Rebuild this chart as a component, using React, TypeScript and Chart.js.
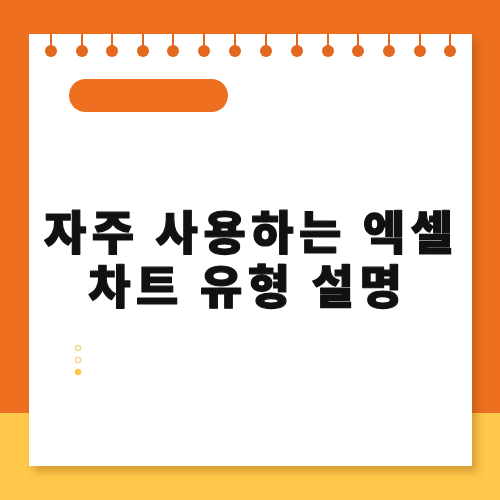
import React, { useEffect, useRef } from 'react';
import { Chart, Plugin, registerables } from 'chart.js';

Chart.register(...registerables);

// spiral binding holes along the top of the sheet
const holeX = [51, 82, 112, 143, 173, 204, 235, 266, 297, 328, 358, 389, 420, 450];
const holeY = [51, 51, 51, 51, 51, 51, 51, 51, 51, 51, 51, 51, 51, 51];

// the three little dots under the title
const bulletX = [78, 78, 78];
const bulletY = [348, 360, 372];
const bulletFilled = [false, false, true];

const titleLines = ['자주 사용하는 엑셀', '차트 유형 설명'];

const ORANGE = '#EE6F1F';
const YELLOW = '#FFC94B';

const sheetPlugin: Plugin<'scatter'> = {
  id: 'sheet',
  beforeDatasetsDraw(chart) {
    const { ctx } = chart;
    const x = chart.scales.x;
    const y = chart.scales.y;
    const px = (v: number) => x.getPixelForValue(v);
    const py = (v: number) => y.getPixelForValue(v);

    ctx.save();
    // background: orange top, yellow band at the bottom
    ctx.fillStyle = ORANGE;
    ctx.fillRect(px(0), py(0), px(500) - px(0), py(500) - py(0));
    ctx.fillStyle = YELLOW;
    ctx.fillRect(px(0), py(413), px(500) - px(0), py(500) - py(413));

    // white sheet with a soft shadow
    ctx.shadowColor = 'rgba(120, 60, 0, 0.3)';
    ctx.shadowBlur = 8;
    ctx.shadowOffsetX = 5;
    ctx.shadowOffsetY = 6;
    ctx.fillStyle = '#FFFFFF';
    ctx.fillRect(px(29), py(34), px(472) - px(29), py(466) - py(34));
    ctx.shadowColor = 'transparent';

    // orange pill label
    const pl = px(69);
    const pt = py(79);
    const pw = px(228) - pl;
    const ph = py(112) - pt;
    ctx.fillStyle = ORANGE;
    ctx.beginPath();
    ctx.roundRect(pl, pt, pw, ph, ph / 2);
    ctx.fill();

    // stems of the binding holes
    ctx.strokeStyle = '#E4671F';
    ctx.lineWidth = 2;
    holeX.forEach((hx, i) => {
      ctx.beginPath();
      ctx.moveTo(px(hx), py(34));
      ctx.lineTo(px(hx), py(holeY[i]));
      ctx.stroke();
    });

    // title, thickened a little with a round stroke
    const spacing = 5.5;
    ctx.fillStyle = '#111111';
    ctx.strokeStyle = '#111111';
    ctx.lineWidth = 1.2;
    ctx.lineJoin = 'round';
    ctx.textAlign = 'center';
    ctx.textBaseline = 'middle';
    ctx.font = '900 46px "Noto Sans CJK KR", sans-serif';
    (ctx as any).letterSpacing = `${spacing}px`;
    const centers = [248.5, 245];
    titleLines.forEach((line, i) => {
      const cx = px(centers[i]) + spacing / 2;
      const cy = py(232 + i * 54);
      ctx.strokeText(line, cx, cy);
      ctx.fillText(line, cx, cy);
    });
    ctx.restore();
  },
};

export default function App() {
  const canvasRef = useRef<HTMLCanvasElement>(null);
  const chartRef = useRef<Chart<'scatter'> | null>(null);

  useEffect(() => {
    if (!canvasRef.current) return;

    chartRef.current = new Chart(canvasRef.current, {
      type: 'scatter',
      data: {
        datasets: [
          {
            label: 'holes',
            data: holeX.map((hx, i) => ({ x: hx, y: holeY[i] })),
            pointRadius: 6,
            pointBackgroundColor: '#E4671F',
            pointBorderWidth: 0,
            clip: false,
          },
          {
            label: 'bullets',
            data: bulletX.map((bx, i) => ({ x: bx, y: bulletY[i] })),
            pointRadius: bulletFilled.map((f) => (f ? 3.2 : 2.6)),
            pointBackgroundColor: bulletFilled.map((f) => (f ? '#FFC844' : '#FFFFFF')),
            pointBorderColor: bulletFilled.map((f) => (f ? '#FFC844' : '#F2D683')),
            pointBorderWidth: bulletFilled.map((f) => (f ? 0 : 1.4)),
            clip: false,
          },
        ],
      },
      options: {
        animation: false,
        responsive: false,
        devicePixelRatio: 1,
        layout: { padding: 0, autoPadding: false },
        plugins: {
          legend: { display: false },
          tooltip: { enabled: false },
          title: { display: false },
        },
        scales: {
          x: { type: 'linear', min: 0, max: 500, display: false },
          y: { type: 'linear', min: 0, max: 500, reverse: true, display: false },
        },
      },
      plugins: [sheetPlugin],
    });

    return () => {
      if (chartRef.current) {
        chartRef.current.destroy();
        chartRef.current = null;
      }
    };
  }, []);

  return (
    <div style={{ position: 'fixed', left: 0, top: 0, width: 500, height: 500 }}>
      <canvas ref={canvasRef} width={500} height={500} />
    </div>
  );
}
